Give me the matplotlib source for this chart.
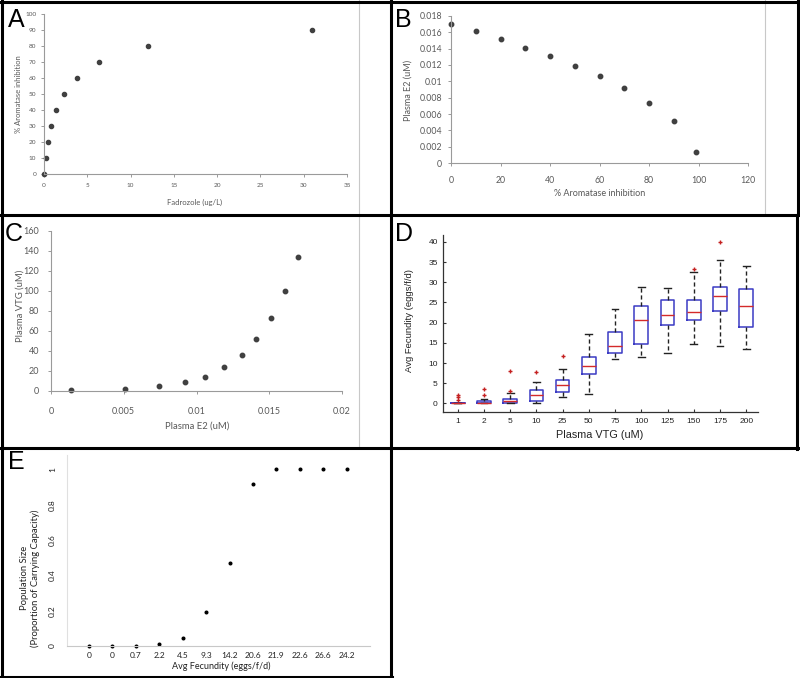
"""Panel figure A-E: fadrozole -> aromatase -> E2 -> VTG -> fecundity -> population."""
import matplotlib
matplotlib.use("Agg")
import matplotlib.pyplot as plt
from matplotlib.lines import Line2D

W, H = 800, 678

# A: dose vs inhibition
fadrozole = [0, 0.2, 0.42, 0.85, 1.42, 2.34, 3.8, 6.4, 12.0, 31.0]
inhib_a = [0, 10, 20, 30, 40, 50, 60, 70, 80, 90]

# B: inhibition vs plasma E2
inhib_b = [0, 10, 20, 30, 40, 50, 60, 70, 80, 90, 99]
e2_b = [0.0170, 0.0161, 0.0151, 0.0141, 0.0131, 0.0119, 0.0106, 0.0092, 0.0074, 0.0051, 0.0014]

# C: plasma E2 vs VTG
e2_c = [0.0014, 0.0051, 0.0074, 0.0092, 0.0106, 0.0119, 0.0131, 0.0141, 0.0151, 0.0161, 0.0170]
vtg_c = [0.3, 2.0, 4.3, 8.3, 13.7, 23.3, 35.3, 52.0, 72.7, 99.7, 134.0]

# D: fecundity box plots per VTG level
vtg_levels = ["1", "2", "5", "10", "25", "50", "75", "100", "125", "150", "175", "200"]
fec_med = [0, 0, 0.7, 2.2, 4.5, 9.3, 14.2, 20.6, 21.9, 22.6, 26.6, 24.2]
fec_q1 = [0, 0, 0, 0.7, 2.8, 7.3, 12.5, 14.8, 19.3, 20.6, 23.0, 18.8]
fec_q3 = [0, 0.7, 1.1, 3.3, 5.9, 11.5, 17.6, 24.1, 25.6, 25.6, 28.9, 28.4]
fec_lo = [0, 0, 0, 0, 1.5, 2.4, 10.9, 11.5, 12.6, 14.7, 14.3, 13.5]
fec_hi = [0, 1.2, 2.5, 5.4, 8.4, 17.1, 23.4, 28.9, 28.5, 32.6, 35.6, 34.0]
fec_out = [[0.9, 1.5, 2.05], [2.0, 3.6], [3.1, 8.0], [7.8], [11.8], [], [], [], [],
           [33.4], [39.9], []]

# E: fecundity vs population size
fec_labels = ["0", "0", "0.7", "2.2", "4.5", "9.3", "14.2", "20.6", "21.9", "22.6", "26.6", "24.2"]
pop_size = [0, 0, 0, 0.009, 0.043, 0.194, 0.468, 0.917, 1, 1, 1, 1]

XL = "#595959"
AXC = "#9a9a9a"
DOT = "#404040"


def px_axes(fig, left, top, right, bottom):
    return fig.add_axes([left / W, 1 - bottom / H, (right - left) / W, (bottom - top) / H])


def fig_xy(x, y):
    return x / W, 1 - y / H


def place_labels(fig, ax, xlab, ylab):
    (xt, xx, xy), (yt, yx, yy) = xlab, ylab
    ax.set_xlabel(xt)
    ax.set_ylabel(yt)
    ax.xaxis.set_label_coords(*fig_xy(xx, xy), transform=fig.transFigure)
    ax.yaxis.set_label_coords(*fig_xy(yx, yy), transform=fig.transFigure)
    ax.xaxis.label.set_va("center")
    ax.yaxis.label.set_va("center")


def excel_style(ax, tick_fs, lab_fs, xpad, ypad):
    for s in ("top", "right"):
        ax.spines[s].set_visible(False)
    for s in ("left", "bottom"):
        ax.spines[s].set_color(AXC)
        ax.spines[s].set_linewidth(0.8)
    ax.tick_params(colors=AXC, labelcolor=XL, labelsize=tick_fs, length=2.5, width=0.7)
    ax.tick_params(axis="x", pad=xpad)
    ax.tick_params(axis="y", pad=ypad)
    ax.xaxis.label.set_fontsize(lab_fs)
    ax.yaxis.label.set_fontsize(lab_fs)
    ax.xaxis.label.set_color(XL)
    ax.yaxis.label.set_color(XL)
    ax.patch.set_alpha(0)


plt.rcParams["font.family"] = ["Lato", "DejaVu Sans"]
fig = plt.figure(figsize=(W / 100, H / 100), dpi=100)

# ---- A
ax = px_axes(fig, 44, 14, 347, 174)
ax.plot(fadrozole, inhib_a, "o", color=DOT, ms=3.0, clip_on=False)
ax.set_xlim(0, 35)
ax.set_ylim(0, 100)
ax.set_xticks(range(0, 36, 5))
ax.set_yticks(range(0, 101, 10))
excel_style(ax, 4.6, 5.5, 4, 3)
place_labels(fig, ax, ("Fadrozole (ug/L)", 195, 202), ("% Aromatase inhibition", 19, 94))

# ---- B
ax = px_axes(fig, 451, 15.7, 748, 163.3)
ax.plot(inhib_b, e2_b, "o", color=DOT, ms=3.2, clip_on=False)
ax.set_xlim(0, 120)
ax.set_ylim(0, 0.018)
ax.set_xticks(range(0, 121, 20))
ax.set_yticks([i * 0.002 for i in range(10)])
ax.set_yticklabels(["0"] + ["%g" % (i * 0.002) for i in range(1, 10)])
excel_style(ax, 6.3, 6.5, 7, 4)
place_labels(fig, ax, ("% Aromatase inhibition", 600, 194), ("Plasma E2 (uM)", 408, 90))

# ---- C
ax = px_axes(fig, 51, 230.7, 342, 390.7)
ax.plot(e2_c, vtg_c, "o", color=DOT, ms=3.2, clip_on=False)
ax.set_xlim(0, 0.02)
ax.set_ylim(0, 160)
ax.set_xticks([0, 0.005, 0.01, 0.015, 0.02])
ax.set_xticklabels(["0", "0.005", "0.01", "0.015", "0.02"])
ax.set_yticks(range(0, 161, 20))
excel_style(ax, 6.5, 6.8, 9, 6)
place_labels(fig, ax, ("Plasma E2 (uM)", 197, 426), ("Plasma VTG (uM)", 20, 306))

# ---- D
ax = px_axes(fig, 443.3, 235, 758, 412.3)
stats = []
for i, lab in enumerate(vtg_levels):
    stats.append(dict(label=lab, med=fec_med[i], q1=fec_q1[i], q3=fec_q3[i],
                      whislo=fec_lo[i], whishi=fec_hi[i], fliers=fec_out[i]))
ax.bxp(stats, widths=0.52, showfliers=True,
       boxprops=dict(color="#3b3bc4", lw=1.1),
       medianprops=dict(color="#d42a2a", lw=1.0),
       whiskerprops=dict(color="#222222", lw=1.0, ls=(0, (3, 2))),
       capprops=dict(color="#222222", lw=1.0),
       flierprops=dict(marker="+", markeredgecolor="#c42020", ms=3.5, mew=1.0))
ax.set_xlim(0.45, 12.45)
ax.set_ylim(-2.2, 41.7)
ax.set_yticks(range(0, 41, 5))
for s in ("top", "right"):
    ax.spines[s].set_visible(False)
for s in ("left", "bottom"):
    ax.spines[s].set_color("#333333")
    ax.spines[s].set_linewidth(0.9)
ax.tick_params(direction="in", length=2, labelsize=6, colors="#333333", labelcolor="#222222")
ax.tick_params(axis="x", pad=4)
ax.tick_params(axis="y", pad=4)
for t in ax.get_xticklabels() + ax.get_yticklabels():
    t.set_family(["Liberation Sans", "DejaVu Sans"])
ax.set_xlabel("Plasma VTG (uM)", family=["Liberation Sans", "DejaVu Sans"], fontsize=7.8, color="#222222")
ax.set_ylabel("Avg Fecundity (eggs/f/d)", family=["Liberation Sans", "DejaVu Sans"], fontsize=6.8, color="#222222")
ax.xaxis.set_label_coords(*fig_xy(600, 435), transform=fig.transFigure)
ax.yaxis.set_label_coords(*fig_xy(410, 320), transform=fig.transFigure)
ax.xaxis.label.set_va("center")
ax.yaxis.label.set_va("center")
ax.patch.set_alpha(0)

# ---- E
ax = px_axes(fig, 67, 455, 370, 646)
ax.plot(range(len(pop_size)), pop_size, "o", color="black", ms=1.9, clip_on=False)
ax.set_xlim(-0.94, 12.0)
ax.set_ylim(0, 1.081)
ax.set_xticks(range(len(fec_labels)))
ax.set_xticklabels(fec_labels)
ax.set_yticks([0, 0.2, 0.4, 0.6, 0.8, 1.0])
ax.set_yticklabels(["0", "0.2", "0.4", "0.6", "0.8", "1"], rotation=90, va="center")
for s in ("top", "right"):
    ax.spines[s].set_visible(False)
ax.spines["left"].set_color("#e0e0e0")
ax.spines["bottom"].set_color("#c8c8c8")
ax.tick_params(length=0, labelsize=6, labelcolor="#222222")
ax.tick_params(axis="x", pad=4)
ax.tick_params(axis="y", pad=8)
ax.set_xlabel("Avg Fecundity (eggs/f/d)", fontsize=6.5, color="#222222")
ax.set_ylabel("Population Size\n(Proportion of Carrying Capacity)", fontsize=6.8,
              color="#222222", linespacing=1.1)
ax.xaxis.set_label_coords(*fig_xy(221, 666), transform=fig.transFigure)
ax.yaxis.set_label_coords(*fig_xy(30, 578), transform=fig.transFigure)
ax.xaxis.label.set_va("center")
ax.yaxis.label.set_va("center")
ax.patch.set_alpha(0)

# panel letters
for letter, x, y in [("A", 8, 8), ("B", 395, 8), ("C", 5, 222), ("D", 395, 222), ("E", 8, 450)]:
    fig.text(*fig_xy(x, y), letter, fontsize=18, ha="left", va="top",
             family=["Liberation Sans", "DejaVu Sans"], color="black")

# panel frames
grey = [((359, 359), (0, 447)), ((765, 765), (0, 215))]
black = [((1.5, 1.5), (0, 678)), ((0, 798), (1.5, 1.5)), ((391, 391), (0, 678)),
         ((798, 798), (0, 215)), ((797, 797), (215, 449)), ((0, 799), (215, 215)),
         ((0, 798), (447.5, 447.5)), ((0, 392), (676.5, 676.5))]
for xs, ys, col, lw in [(g[0], g[1], "#c8c8c8", 0.8) for g in grey] + \
        [(b[0], b[1], "black", 2.2) for b in black]:
    fig.add_artist(Line2D([x / W for x in xs], [1 - y / H for y in ys],
                          transform=fig.transFigure, color=col, lw=lw,
                          solid_capstyle="projecting"))

fig.savefig("out.png", dpi=100)
